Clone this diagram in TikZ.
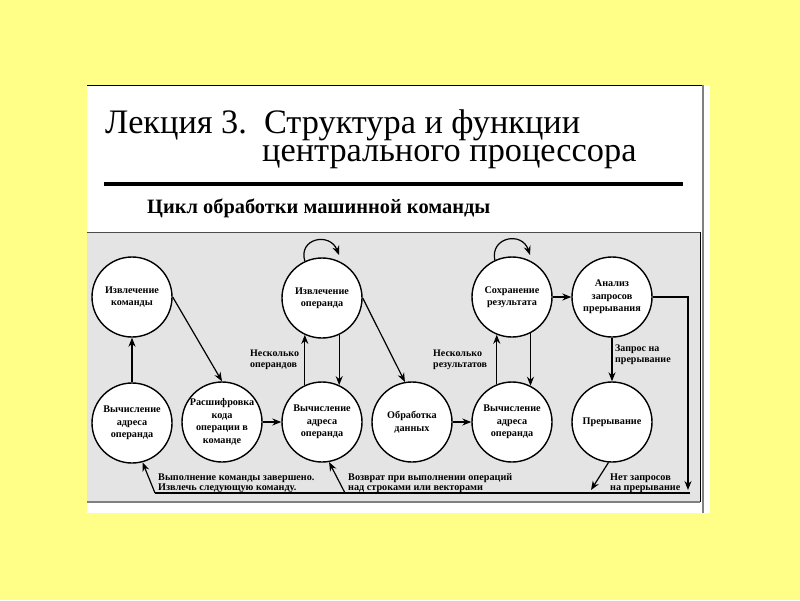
\documentclass[tikz,border=0pt]{standalone}
\usepackage{fontspec}
\setmainfont{Liberation Serif}
\usetikzlibrary{arrows.meta,calc}
\definecolor{bgyellow}{RGB}{255,255,136}
\definecolor{boxgray}{RGB}{228,228,228}
\begin{document}
\begin{tikzpicture}[x=1pt,y=-1pt,
  state/.style={circle,draw,line width=1.4pt,fill=white,minimum size=80pt,inner sep=0pt,align=center,font=\fontsize{10.2}{12.5}\selectfont\bfseries},
  lbl/.style={align=left,anchor=west,font=\fontsize{10}{11}\selectfont\bfseries,inner sep=0pt},
  blbl/.style={align=left,anchor=west,font=\fontsize{10.2}{9.8}\selectfont\bfseries,inner sep=0pt},
  arr/.style={-{Stealth[length=9pt,width=7pt]},line width=1.2pt},
]
\fill[bgyellow] (0,0) rectangle (800,600);
\useasboundingbox (0,0) rectangle (800,600);
% panel
\fill[white] (87,85) rectangle (710,513);
\draw[line width=1pt] (87,85) -- (703,85);
\draw[gray,line width=1.2pt] (703,85) -- (703,513);
\fill[boxgray] (87,232) rectangle (700,502);
\draw[gray!60!black,line width=1pt] (87,232) -- (700,232);
\draw[black,line width=1pt] (700,232) -- (700,502);
\draw[gray,line width=1.5pt] (87,502) -- (700,502);
% titles
\node[anchor=base west,inner sep=0pt,align=left,font=\fontsize{34.3}{28}\selectfont] (t1) at (105,161) {Лекция 3.\hspace{0.5em}Структура и функции\\\hspace*{157pt}центрального процессора};
\draw[line width=4pt] (104,184) -- (683,184);
\node[anchor=base west,inner sep=0pt,font=\fontsize{20.4}{20}\selectfont\bfseries] (st) at (147,213) {Цикл обработки машинной команды};
% states
\node[state] (c1) at (132,297) {Извлечение\\команды};
\node[state] (c2) at (132,423) {Вычисление\\адреса\\операнда};
\node[state] (c3) at (222,422) {Расшифровка\\кода\\операции в\\команде};
\node[state] (c4) at (322,298) {Извлечение\\операнда};
\node[state] (c5) at (322,422) {Вычисление\\адреса\\операнда};
\node[state] (c6) at (412,422) {Обработка\\данных};
\node[state] (c7) at (512,297) {Сохранение\\результата};
\node[state] (c8) at (512,422) {Вычисление\\адреса\\операнда};
\node[state] (c9) at (612,297) {Анализ\\запросов\\прерывания};
\node[state] (c10) at (612,422) {Прерывание};
% coordinates
\coordinate (r1) at (688,297);
\coordinate (r2) at (688,490);
\coordinate (bl) at (155,493);
\coordinate (bm) at (345,493);
\coordinate (br) at (690,493);
\coordinate (bi) at (591,490);
% connectors
\draw[arr] (c2.north) -- (c1.south);
\draw[arr] (c1.east) -- (c3.north);
\draw[arr] (c3.east) -- (c5.west);
\draw[arr] (c5.115) -- (c4.245);
\draw[arr] (c4.295) -- (c5.65);
\draw[arr] (c4.east) -- (c6.100);
\draw[arr] (c6.east) -- (c8.west);
\draw[arr] (c8.112) -- (c7.248);
\draw[arr] (c7.297) -- (c8.63);
\draw[arr] (c7.east) -- (c9.west);
\draw[arr] (c9.south) -- (c10.north);
\draw[arr] (c9.east) -- (r1) -- (r2);
\draw[arr] (c4.115) .. controls ($(c4)+(-24,-60)$) and ($(c4)+(8,-66)$) .. ($(c4)+(17,-43)$);
\draw[arr] (c7.115) .. controls ($(c7)+(-22,-60)$) and ($(c7)+(10,-66)$) .. ($(c7)+(18,-42)$);
\draw[line width=1.2pt] (bl) -- (br);
\draw[arr] (bl) -- (c2.-75);
\draw[arr] (bm) -- (c5.-80);
\draw[arr] (c10.-95) -- (bi);
% labels
\node[lbl] (l1) at (250,360) {Несколько\\операндов};
\node[lbl] (l2) at (433,360) {Несколько\\результатов};
\node[lbl] (l3) at (615,355) {Запрос на\\прерывание};
\node[blbl] (l4) at (610,483) {Нет запросов\\на прерывание};
\node[blbl] (l5) at (158,483) {Выполнение команды завершено.\\Извлечь следующую команду.};
\node[blbl] (l6) at (348,483) {Возврат при выполнении операций\\над строками или векторами};
\end{tikzpicture}
\end{document}
